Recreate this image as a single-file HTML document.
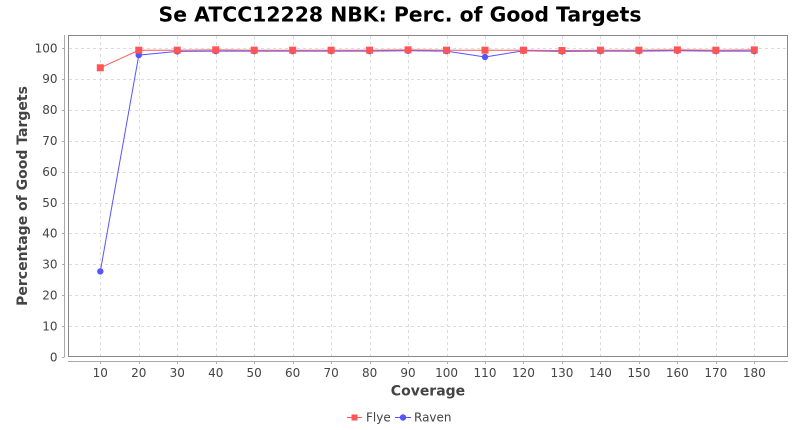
<!DOCTYPE html>
<html><head><meta charset="utf-8"><style>
html,body{margin:0;padding:0;background:#fff;}
svg{display:block;}
text{font-family:"DejaVu Sans","Liberation Sans",sans-serif;}
</style></head><body>
<svg width="800" height="430" viewBox="0 0 800 430" xmlns="http://www.w3.org/2000/svg">
<rect x="0" y="0" width="800" height="430" fill="#fff"/>
<text x="400" y="21.7" text-anchor="middle" font-size="20.4" font-weight="bold" fill="#000">Se ATCC12228 NBK: Perc. of Good Targets</text>
<rect x="68.5" y="35.5" width="719" height="321" fill="#fff"/>
<g stroke="#dcdcdc" stroke-width="1" stroke-dasharray="3,3" fill="none" id="grid"></g>
<rect x="68.5" y="35.5" width="719" height="321" fill="none" stroke="#888" stroke-width="1"/>
<line x1="64.5" y1="35" x2="64.5" y2="357" stroke="#aaa"/>
<line x1="68" y1="361.5" x2="788" y2="361.5" stroke="#aaa"/>
<g id="yt" font-size="12" fill="#444" text-anchor="end"></g>
<g id="xt" font-size="12" fill="#444" text-anchor="middle"></g>
<g id="series"></g>
<text x="428" y="395.5" text-anchor="middle" font-size="14" font-weight="bold" fill="#444">Coverage</text>
<text transform="translate(27,196) rotate(-90)" text-anchor="middle" font-size="14" font-weight="bold" fill="#444">Percentage of Good Targets</text>
<line x1="347" y1="417.5" x2="362" y2="417.5" stroke="#ff5555"/>
<rect x="351.5" y="414.5" width="6" height="6" fill="#ff5555"/>
<text x="366" y="421.7" font-size="12" fill="#444">Flye</text>
<line x1="395" y1="417.5" x2="411" y2="417.5" stroke="#5555ff"/>
<circle cx="403" cy="417.5" r="3.2" fill="#5555ff"/>
<text x="414" y="421.7" font-size="12" fill="#444">Raven</text>
</svg>
<script>
var ns="http://www.w3.org/2000/svg";
function el(n,a,p,t){var e=document.createElementNS(ns,n);for(var k in a)e.setAttribute(k,a[k]);if(t!==undefined)e.textContent=t;p.appendChild(e);return e;}
var grid=document.getElementById('grid'),yt=document.getElementById('yt'),xt=document.getElementById('xt'),ser=document.getElementById('series');
function Y(v){return 357-v*3.09;}
function X(i){return 100.3+i*38.47;}
for(var v=0;v<=100;v+=10){var y=Math.round(Y(v))+0.5;
 if(v>0)el('line',{x1:69,y1:y,x2:787,y2:y},grid);
 el('line',{x1:62,y1:y,x2:64.5,y2:y,stroke:'#aaa'},yt);
 el('text',{x:57.5,y:Y(v)+4.3},yt,String(v));}
for(var i=0;i<18;i++){var x=Math.round(X(i))+0.5;
 el('line',{x1:x,y1:36,x2:x,y2:356},grid);
 el('line',{x1:x,y1:361.5,x2:x,y2:364,stroke:'#aaa'},xt);
 el('text',{x:X(i),y:377},xt,String((i+1)*10));}
var flye=[93.6,99.3,99.3,99.4,99.3,99.3,99.3,99.3,99.4,99.3,99.3,99.3,99.2,99.3,99.3,99.4,99.3,99.4];
var raven=[27.7,97.7,98.9,99.0,99.0,99.0,99.0,99.0,99.1,99.0,97.1,99.1,98.9,99.0,99.0,99.1,99.0,99.0];
function pts(d){return d.map(function(v,i){return X(i).toFixed(1)+','+Y(v).toFixed(1);}).join(' ');}
el('polyline',{points:pts(raven),fill:'none',stroke:'#5555ff','stroke-width':1},ser);
raven.forEach(function(v,i){el('circle',{cx:X(i),cy:Y(v),r:3.2,fill:'#5555ff'},ser);});
el('polyline',{points:pts(flye),fill:'none',stroke:'#ff5555','stroke-width':1},ser);
flye.forEach(function(v,i){el('rect',{x:X(i)-3.5,y:Y(v)-3.5,width:7,height:7,fill:'#ff5555'},ser);});
</script>
</body></html>
